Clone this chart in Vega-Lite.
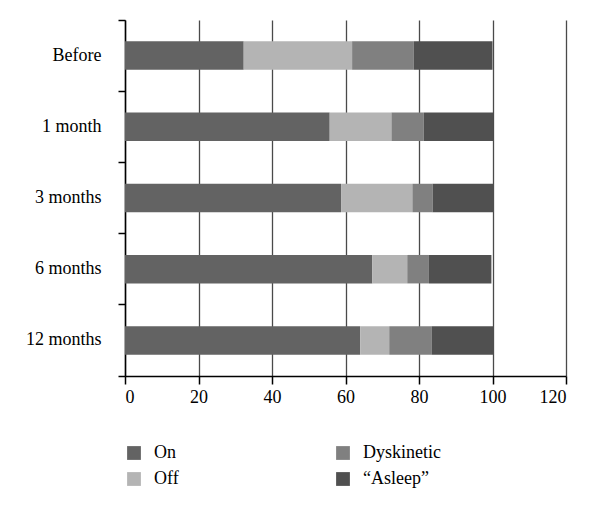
{
  "$schema": "https://vega.github.io/schema/vega-lite/v6.json",
  "autosize": "none",
  "width": 441,
  "height": 356,
  "padding": {"left": 125, "top": 20, "right": 34, "bottom": 134},
  "background": "white",
  "config": {
    "font": "Liberation Serif",
    "view": {"stroke": null}
  },
  "data": {
    "values": [
      {"period": "Before", "status": "On", "k": 1, "value": 32.3},
      {"period": "Before", "status": "Off", "k": 2, "value": 29.5},
      {"period": "Before", "status": "Dyskinetic", "k": 3, "value": 16.8},
      {"period": "Before", "status": "“Asleep”", "k": 4, "value": 21.4},
      {"period": "1 month", "status": "On", "k": 1, "value": 55.7},
      {"period": "1 month", "status": "Off", "k": 2, "value": 16.8},
      {"period": "1 month", "status": "Dyskinetic", "k": 3, "value": 8.8},
      {"period": "1 month", "status": "“Asleep”", "k": 4, "value": 18.9},
      {"period": "3 months", "status": "On", "k": 1, "value": 58.8},
      {"period": "3 months", "status": "Off", "k": 2, "value": 19.4},
      {"period": "3 months", "status": "Dyskinetic", "k": 3, "value": 5.5},
      {"period": "3 months", "status": "“Asleep”", "k": 4, "value": 16.7},
      {"period": "6 months", "status": "On", "k": 1, "value": 67.3},
      {"period": "6 months", "status": "Off", "k": 2, "value": 9.5},
      {"period": "6 months", "status": "Dyskinetic", "k": 3, "value": 5.9},
      {"period": "6 months", "status": "“Asleep”", "k": 4, "value": 17.0},
      {"period": "12 months", "status": "On", "k": 1, "value": 64.0},
      {"period": "12 months", "status": "Off", "k": 2, "value": 7.9},
      {"period": "12 months", "status": "Dyskinetic", "k": 3, "value": 11.5},
      {"period": "12 months", "status": "“Asleep”", "k": 4, "value": 17.0}
    ]
  },
  "mark": {"type": "bar", "height": {"band": 0.4}},
  "encoding": {
    "y": {
      "field": "period",
      "type": "nominal",
      "sort": ["Before", "1 month", "3 months", "6 months", "12 months"],
      "scale": {"paddingInner": 0, "paddingOuter": 0},
      "axis": {
        "title": null,
        "bandPosition": 1,
        "tickExtra": true,
        "domainColor": "#000000",
        "domainWidth": 1.5,
        "tickColor": "#000000",
        "tickWidth": 1.5,
        "tickSize": 7,
        "labelFontSize": 18,
        "labelColor": "#000000",
        "labelPadding": 17,
        "grid": false
      }
    },
    "x": {
      "field": "value",
      "type": "quantitative",
      "stack": "zero",
      "scale": {"domain": [0, 120], "nice": false},
      "axis": {
        "title": null,
        "values": [0, 20, 40, 60, 80, 100, 120],
        "grid": true,
        "gridColor": "#4a4a4a",
        "gridWidth": 1.3,
        "domainColor": "#000000",
        "domainWidth": 1.5,
        "tickColor": "#000000",
        "tickWidth": 1.5,
        "tickSize": 8,
        "labelFontSize": 18,
        "labelColor": "#000000",
        "labelPadding": 4
      }
    },
    "color": {
      "field": "status",
      "type": "nominal",
      "scale": {
        "domain": ["On", "Off", "Dyskinetic", "“Asleep”"],
        "range": ["#636363", "#b4b4b4", "#808080", "#505050"]
      },
      "legend": {
        "title": null,
        "orient": "none",
        "legendX": 0,
        "legendY": 424,
        "columns": 2,
        "columnPadding": 155,
        "rowPadding": 8,
        "symbolType": "square",
        "symbolSize": 190,
        "symbolStrokeWidth": 0,
        "symbolOffset": 0,
        "labelOffset": 11,
        "labelFontSize": 18,
        "labelColor": "#000000"
      }
    },
    "order": {"field": "k", "type": "quantitative", "sort": "ascending"}
  }
}
